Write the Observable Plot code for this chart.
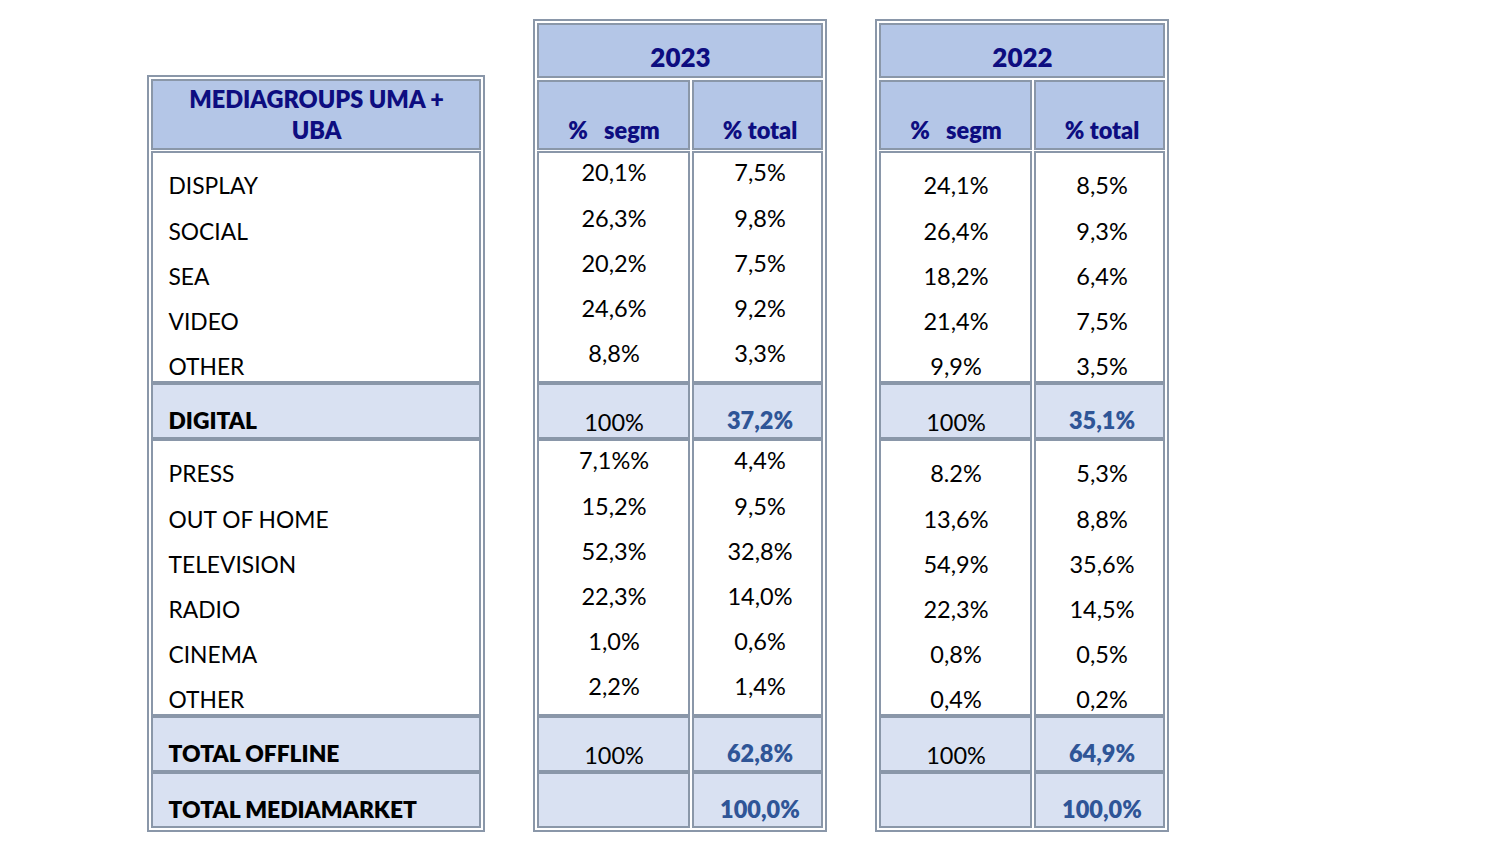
<!DOCTYPE html>
<html><head><meta charset="utf-8">
<script src="https://cdn.jsdelivr.net/npm/d3@7"></script>
<script src="https://cdn.jsdelivr.net/npm/@observablehq/plot@0.6"></script>
<style>html,body{margin:0;padding:0;background:#fff;overflow:hidden}</style>
</head><body><div id="chart"></div>
<script>
// ---------- data ----------
const titleLines = ["MEDIAGROUPS UMA +", "UBA"];
const years = ["2023", "2022"];
const subHeaders = ["%   segm", "% total"];
const categories = ["DISPLAY","SOCIAL","SEA","VIDEO","OTHER","DIGITAL","PRESS","OUT OF HOME","TELEVISION","RADIO","CINEMA","OTHER","TOTAL OFFLINE","TOTAL MEDIAMARKET"];
const rowKind = ["item","item","item","item","item","subtotal","item","item","item","item","item","item","subtotal","total"];
const segm2023 = ["20,1%","26,3%","20,2%","24,6%","8,8%","100%","7,1%%","15,2%","52,3%","22,3%","1,0%","2,2%","100%",""];
const total2023 = ["7,5%","9,8%","7,5%","9,2%","3,3%","37,2%","4,4%","9,5%","32,8%","14,0%","0,6%","1,4%","62,8%","100,0%"];
const segm2022 = ["24,1%","26,4%","18,2%","21,4%","9,9%","100%","8.2%","13,6%","54,9%","22,3%","0,8%","0,4%","100%",""];
const total2022 = ["8,5%","9,3%","6,4%","7,5%","3,5%","35,1%","5,3%","8,8%","35,6%","14,5%","0,5%","0,2%","64,9%","100,0%"];
const valuesByYear = {"2023": [segm2023, total2023], "2022": [segm2022, total2022]};

// ---------- layout ----------
const W = 1504, H = 850;
const BORDER = "#8a97a9", HEAD = "#b4c6e7", SUB = "#d9e1f2", NAVY = "#0d0d80", BLUE = "#2f5597";
const FONT = "Lato, 'Open Sans', sans-serif";
const BOLD = 800;
const FS_LABEL = 22.8, FS_VAL = 23.5, FS_HEAD = 23.5, FS_YEAR = 26;
const tables = [
  {id: "label", x1: 148, x2: 484, top: 76},
  {id: years[0], x1: 534, x2: 826, top: 20},
  {id: years[1], x1: 876, x2: 1168, top: 20}
];
const bottom = 831;
const itemH = 45, subH = 54, gap = 2;

// groups of rows from rowKind
const groups = [];
let y = 152;
for (let i = 0; i < categories.length; ) {
  if (rowKind[i] === "item") {
    let j = i; while (j < categories.length && rowKind[j] === "item") j++;
    const h = (j - i) * itemH + 5;
    groups.push({kind: "item", rows: d3.range(i, j), y1: y, y2: y + h});
    y += h + gap; i = j;
  } else {
    groups.push({kind: rowKind[i], rows: [i], y1: y, y2: y + subH});
    y += subH + gap; i++;
  }
}
const rowY = new Array(categories.length);
for (const g of groups) {
  if (g.kind === "item") g.rows.forEach((r, k) => rowY[r] = g.y1 + itemH * (k + 1) - 11 + (k > 0 ? 1 : 0));
  else rowY[g.rows[0]] = g.y2 - 17;
}

// columns
const cols = [];
for (const t of tables) {
  const ix1 = t.x1 + 4, ix2 = t.x2 - 4;
  if (t.id === "label") cols.push({table: t.id, key: "label", x1: ix1, x2: ix2});
  else {
    const split = ix1 + 151;
    cols.push({table: t.id, key: 0, x1: ix1, x2: split});
    cols.push({table: t.id, key: 1, x1: split + 4, x2: ix2});
  }
}

// cell rectangles
const cells = [];
for (const t of tables) cells.push({x1: t.x1, x2: t.x2, y1: t.top, y2: bottom, fill: "none"});
for (const t of tables) {
  const ix1 = t.x1 + 4, ix2 = t.x2 - 4;
  if (t.id === "label") cells.push({x1: ix1, x2: ix2, y1: 80, y2: 149, fill: HEAD});
  else cells.push({x1: ix1, x2: ix2, y1: 24, y2: 77, fill: HEAD});
}
for (const c of cols) {
  if (c.key !== "label") cells.push({x1: c.x1, x2: c.x2, y1: 81, y2: 149, fill: HEAD});
  for (const g of groups) {
    cells.push({x1: c.x1, x2: c.x2, y1: g.y1, y2: g.y2, fill: g.kind === "item" ? "#ffffff" : SUB});
  }
}

// texts
const cx = c => (c.x1 + c.x2) / 2 + (c.key === 1 ? 2 : 0);
const texts = [];
titleLines.forEach((s, i) => texts.push({x: 316, y: [100, 131][i], text: s, fill: NAVY, weight: BOLD, anchor: "middle", size: FS_HEAD}));
for (const t of tables) if (t.id !== "label") texts.push({x: (t.x1 + t.x2) / 2, y: 58, text: t.id, fill: NAVY, weight: BOLD, anchor: "middle", size: FS_YEAR});
for (const c of cols) if (c.key !== "label") texts.push({x: cx(c), y: 131, text: subHeaders[c.key], fill: NAVY, weight: BOLD, anchor: "middle", size: FS_HEAD});
categories.forEach((s, i) => texts.push({x: 168, y: rowY[i], text: s, fill: "#000", weight: rowKind[i] === "item" ? 400 : BOLD, anchor: "start", size: FS_LABEL}));
for (const c of cols) {
  if (c.key === "label") continue;
  const vals = valuesByYear[c.table][c.key];
  vals.forEach((v, i) => {
    const item = rowKind[i] === "item";
    const dy = item && c.table === years[0] ? -13 : (!item && c.key === 0 ? 2 : 0);
    texts.push({x: cx(c), y: rowY[i] + dy, text: v,
      fill: !item && c.key === 1 ? BLUE : "#000",
      weight: !item && c.key === 1 ? BOLD : 400, anchor: "middle", size: FS_VAL});
  });
}

const textMarks = [];
for (const w of [400, BOLD]) for (const a of ["start", "middle"]) for (const s of [FS_LABEL, FS_VAL, FS_YEAR]) {
  const sub = texts.filter(d => d.weight === w && d.anchor === a && d.size === s);
  if (sub.length) textMarks.push(Plot.text(sub, {x: "x", y: "y", text: "text", fill: d => d.fill, fontWeight: w, textAnchor: a, fontSize: s, fontFamily: FONT}));
}

const plot = Plot.plot({
  width: W, height: H, margin: 0,
  x: {axis: null, domain: [0, W], range: [0, W]},
  y: {axis: null, domain: [0, H], range: [0, H]},
  style: {fontFamily: FONT, background: "#fff"},
  marks: [
    Plot.rect(cells, {x1: "x1", x2: "x2", y1: "y1", y2: "y2", fill: d => d.fill, stroke: BORDER, strokeWidth: 2}),
    ...textMarks
  ]
});
document.getElementById("chart").appendChild(plot);
</script></body></html>
